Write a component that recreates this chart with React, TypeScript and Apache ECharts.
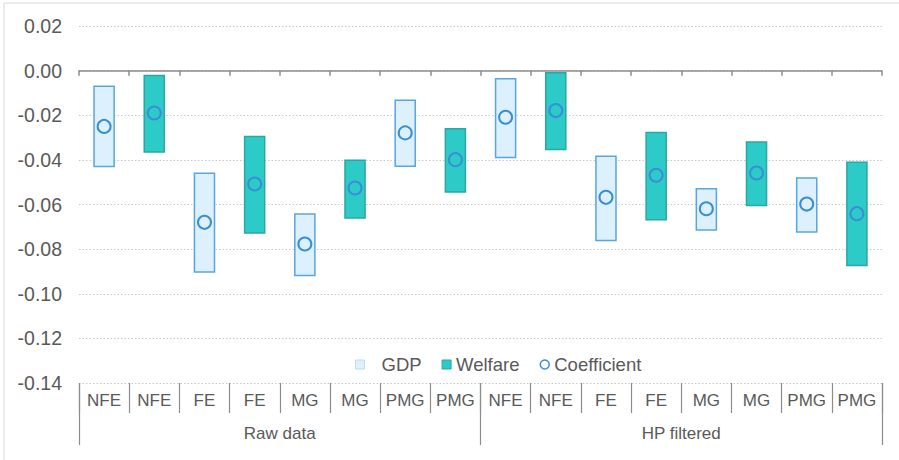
import React, { useEffect, useRef } from "react";
import * as echarts from "echarts";

const categories = ["NFE", "NFE", "FE", "FE", "MG", "MG", "PMG", "PMG", "NFE", "NFE", "FE", "FE", "MG", "MG", "PMG", "PMG"];
const groups = ["Raw data", "HP filtered"];
const measure = ["GDP", "Welfare", "GDP", "Welfare", "GDP", "Welfare", "GDP", "Welfare", "GDP", "Welfare", "GDP", "Welfare", "GDP", "Welfare", "GDP", "Welfare"];
const upper = [-0.007, -0.0022, -0.046, -0.0295, -0.0643, -0.0402, -0.0133, -0.0261, -0.0036, -0.001, -0.0384, -0.0277, -0.0529, -0.032, -0.0481, -0.0411];
const lower = [-0.043, -0.0365, -0.0903, -0.0728, -0.0918, -0.066, -0.0429, -0.0544, -0.0389, -0.0354, -0.0761, -0.0668, -0.0714, -0.0604, -0.0723, -0.0873];
const coefficient = [-0.025, -0.019, -0.068, -0.0508, -0.0777, -0.0526, -0.0279, -0.0399, -0.0209, -0.0179, -0.0568, -0.0469, -0.0619, -0.0459, -0.0598, -0.0641];

const TEXT = "#595959";
const FONT = "Liberation Sans, Arial, sans-serif";
const GDP_FILL = "#dcf0fd";
const GDP_STROKE = "#5aa5df";
const WEL_FILL = "#2dcbc8";
const WEL_STROKE = "#2aa6a3";
const COEF = "#3a8ed6";

function boxData(kind: string) {
  const out: any[] = [];
  categories.forEach((_, i) => {
    if (measure[i] === kind) out.push([i, lower[i], upper[i]]);
  });
  return out;
}

function renderBox(fill: string, stroke: string) {
  return (params: any, api: any) => {
    const i = api.value(0);
    const top = api.coord([i, api.value(2)]);
    const bot = api.coord([i, api.value(1)]);
    const w = api.size([1, 0])[0] * 0.4;
    return {
      type: "rect",
      shape: { x: top[0] - w / 2, y: top[1], width: w, height: bot[1] - top[1] },
      style: { fill, stroke, lineWidth: 1.5 },
    };
  };
}

export default function App() {
  const ref = useRef<HTMLDivElement>(null);
  useEffect(() => {
    document.body.style.margin = "0";
    const chart = echarts.init(ref.current!, null, { renderer: "svg" });
    chart.setOption({
      animation: false,
      textStyle: { fontFamily: FONT },
      graphic: [
        {
          type: "rect",
          shape: { x: 4, y: 3, width: 920, height: 480 },
          style: { fill: "none", stroke: "#d9d9d9", lineWidth: 1 },
          silent: true,
        },
      ],
      grid: { left: 79, right: 17, top: 26, bottom: 77 },
      legend: {
        left: 350,
        top: 350,
        itemWidth: 9,
        itemHeight: 9,
        itemGap: 20,
        formatter: (n: string) => (n === "GDP" ? `{p|${n}}` : `{t|${n}}`),
        textStyle: {
          color: TEXT,
          fontSize: 18.5,
          fontFamily: FONT,
          rich: {
            p: { color: TEXT, fontSize: 18.5, fontFamily: FONT, padding: [0, 0, 0, 12] },
            t: { color: TEXT, fontSize: 18.5, fontFamily: FONT },
          },
        },
        data: [
          { name: "GDP", icon: "rect", itemStyle: { color: GDP_FILL, borderColor: "#b9dcf5", borderWidth: 1 } },
          { name: "Welfare", icon: "rect", itemStyle: { color: WEL_FILL, borderColor: WEL_STROKE, borderWidth: 1 } },
          { name: "Coefficient", icon: "circle", itemStyle: { color: "rgba(0,0,0,0)", borderColor: COEF, borderWidth: 1.5 } },
        ],
      },
      xAxis: [
        {
          type: "category",
          data: categories,
          position: "bottom",
          axisLine: { onZero: true, lineStyle: { color: "#8c8c8c", width: 1.5 } },
          axisTick: { show: true, length: 5, lineStyle: { color: "#8c8c8c", width: 1.5 } },
          axisLabel: { show: false },
          splitLine: { show: false },
        },
        {
          type: "category",
          data: categories,
          position: "bottom",
          axisLine: { show: false, onZero: false },
          axisTick: { show: true, length: 30, lineStyle: { color: "#8c8c8c", width: 1.2 } },
          axisLabel: { show: true, margin: 9, color: TEXT, fontSize: 17, fontFamily: FONT, interval: 0 },
          splitLine: { show: false },
        },
        {
          type: "category",
          data: groups,
          position: "bottom",
          axisLine: { show: false, onZero: false },
          axisTick: { show: true, length: 62, lineStyle: { color: "#8c8c8c", width: 1.2 } },
          axisLabel: { show: true, margin: 42, color: TEXT, fontSize: 17, fontFamily: FONT, interval: 0 },
          splitLine: { show: false },
        },
      ],
      yAxis: {
        type: "value",
        min: -0.14,
        max: 0.02,
        interval: 0.02,
        axisLine: { show: false },
        axisTick: { show: false },
        axisLabel: {
          color: TEXT,
          fontSize: 19.5,
          fontFamily: FONT,
          margin: 17,
          formatter: (v: number) => (Math.abs(v) < 1e-9 ? "0.00" : v.toFixed(2)),
        },
        splitLine: { show: true, lineStyle: { color: "#c8c8c8", type: [1.5, 2], width: 1 } },
      },
      series: [
        {
          name: "GDP",
          type: "custom",
          xAxisIndex: 0,
          renderItem: renderBox(GDP_FILL, GDP_STROKE),
          encode: { x: 0, y: [1, 2] },
          data: boxData("GDP"),
          itemStyle: { color: GDP_FILL },
          z: 2,
        },
        {
          name: "Welfare",
          type: "custom",
          xAxisIndex: 0,
          renderItem: renderBox(WEL_FILL, WEL_STROKE),
          encode: { x: 0, y: [1, 2] },
          data: boxData("Welfare"),
          itemStyle: { color: WEL_FILL },
          z: 2,
        },
        {
          name: "Coefficient",
          type: "scatter",
          xAxisIndex: 0,
          symbol: "circle",
          symbolSize: 13,
          data: coefficient.map((v, i) => [i, v]),
          itemStyle: { color: "rgba(0,0,0,0)", borderColor: COEF, borderWidth: 2, opacity: 1 },
          z: 3,
        },
      ],
    });
    return () => chart.dispose();
  }, []);
  return <div ref={ref} style={{ width: 899, height: 460 }} />;
}
